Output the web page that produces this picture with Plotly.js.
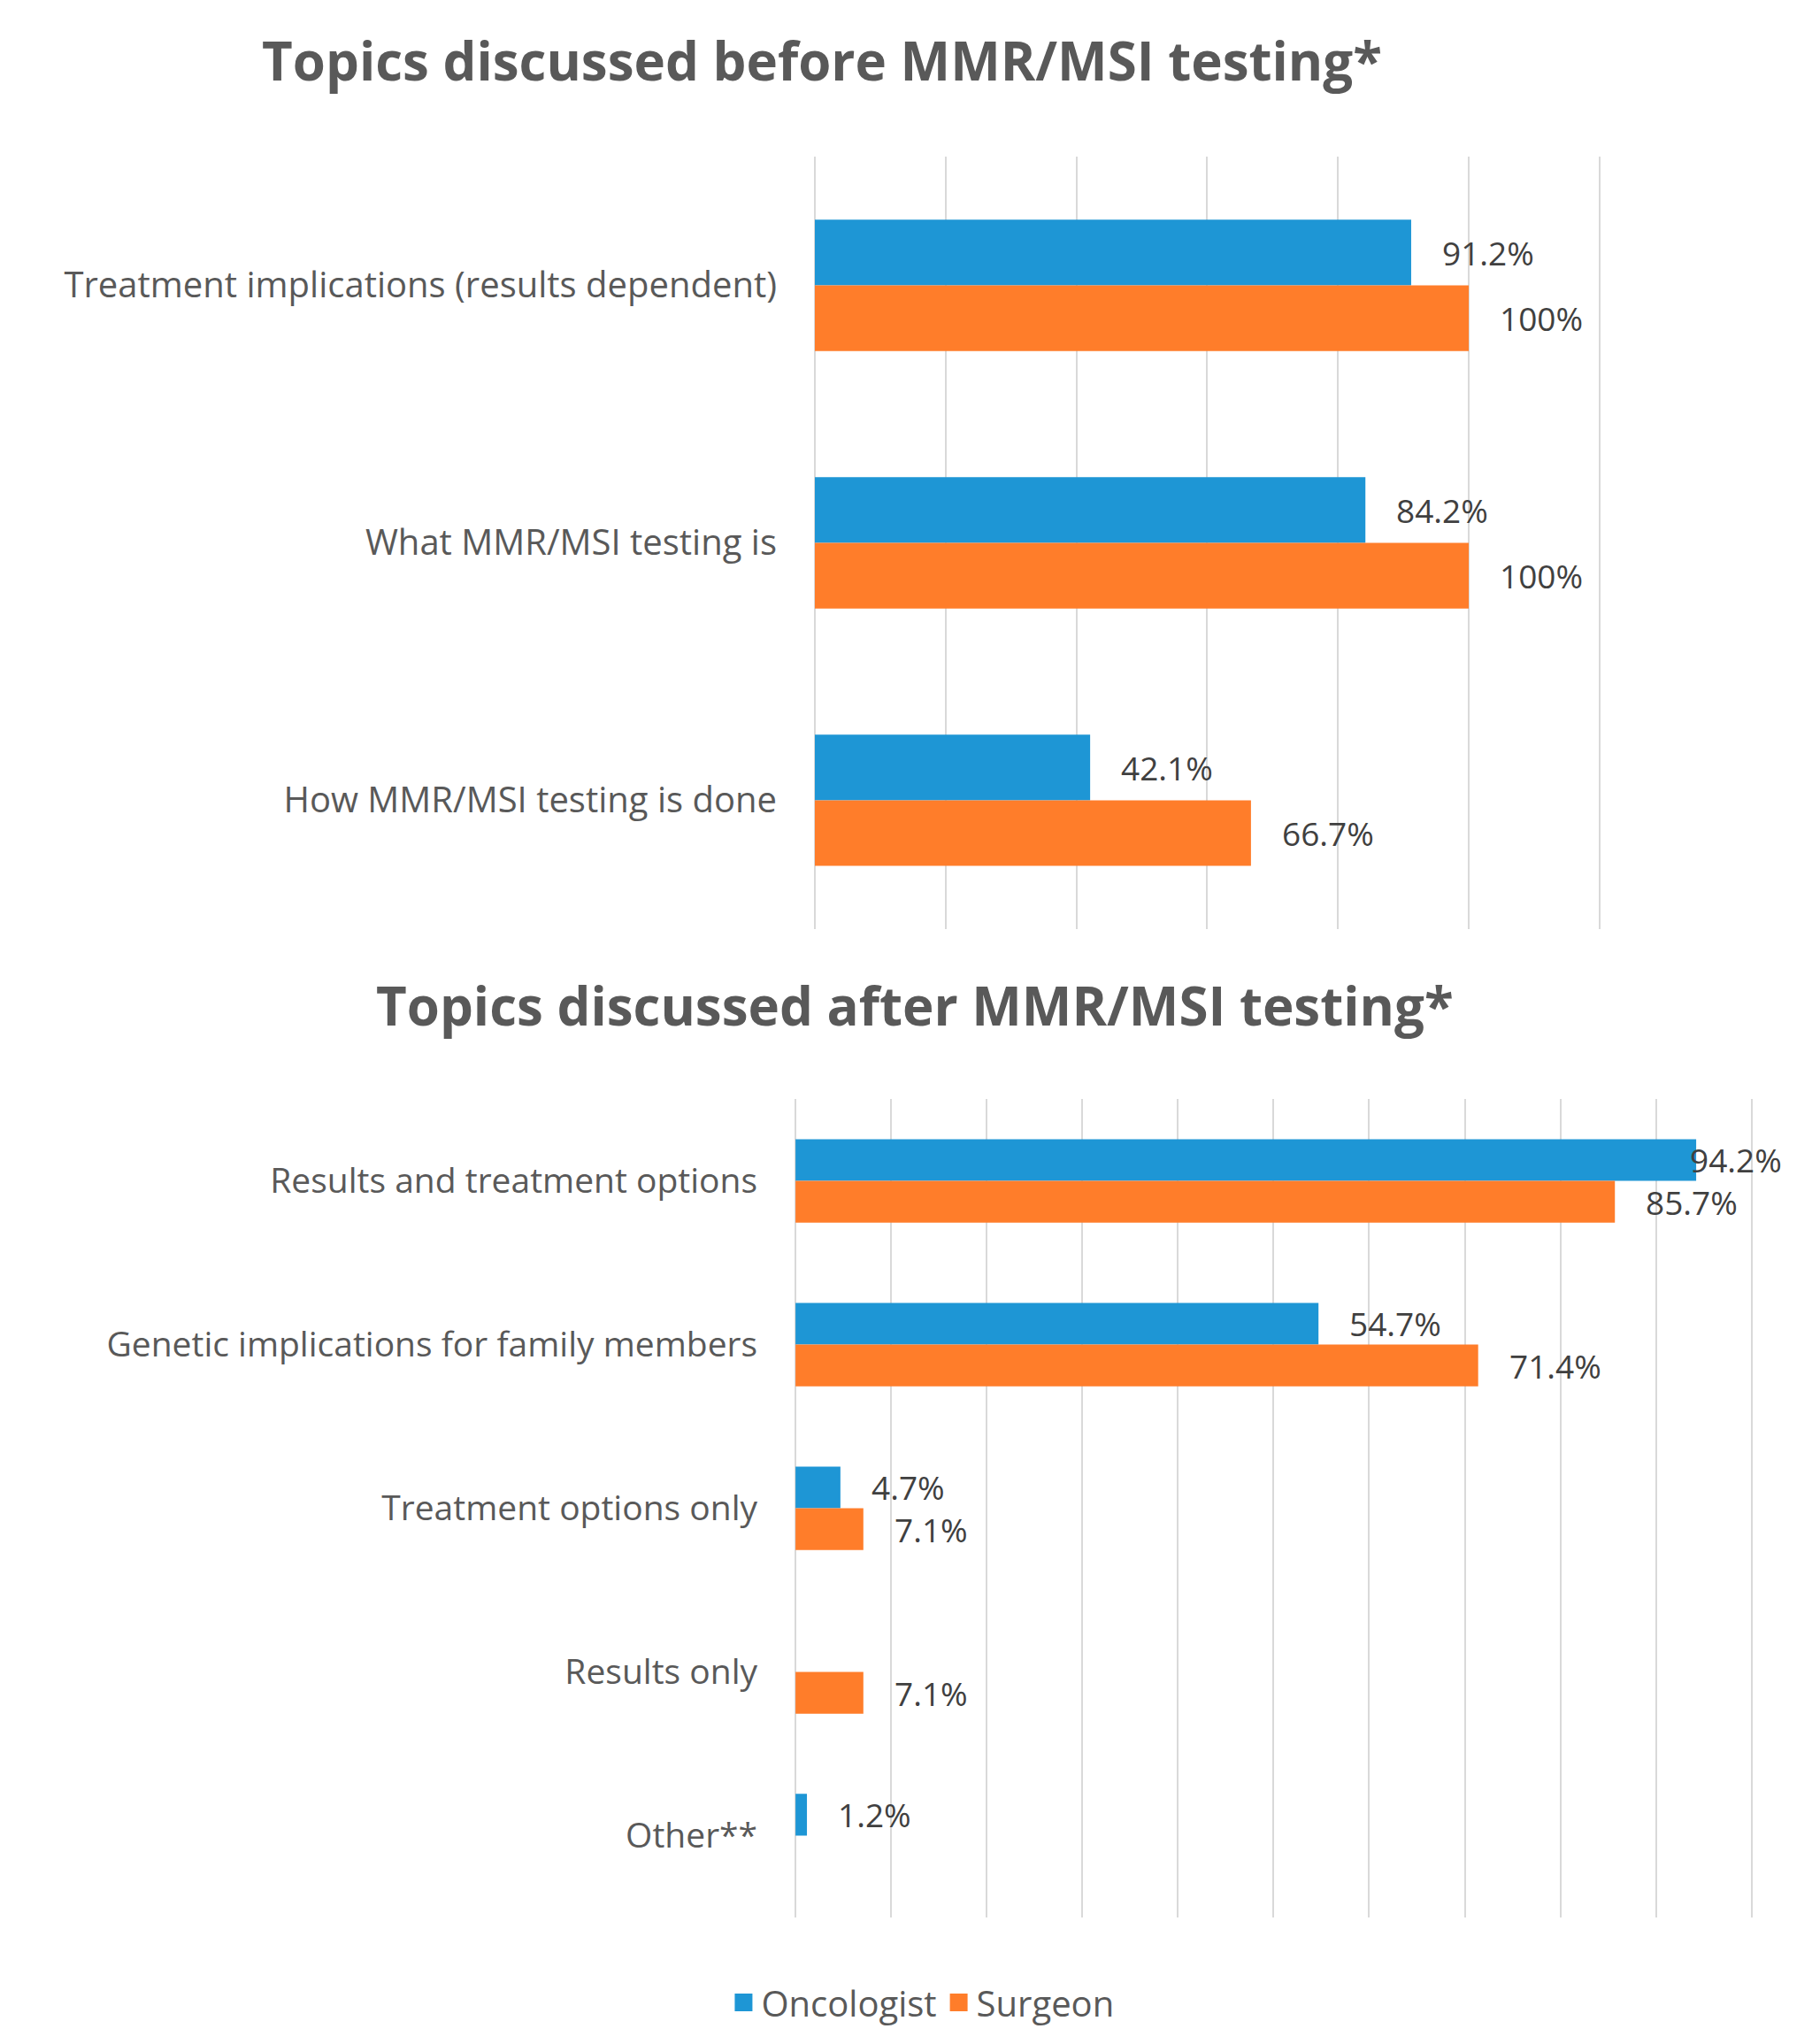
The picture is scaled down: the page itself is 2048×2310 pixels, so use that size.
<!DOCTYPE html>
<html>
<head>
<meta charset="utf-8">
<script src="https://cdn.plot.ly/plotly-3.0.1.min.js"></script>
<style>
	html, body { margin: 0; padding: 0; background: #fff; }
	#chart { width: 2048px; height: 2310px; }
</style>
</head>
<body>
<div id="chart"></div>
<script>
"use strict";
// topics before testing (top panel)
var beforeTopics=['Treatment implications (results dependent)', 'What MMR/MSI testing is', 'How MMR/MSI testing is done'];
var beforeOncologist=[91.2, 84.2, 42.1];
var beforeSurgeon=[100, 100, 66.7];

// topics after testing (bottom panel)
var afterTopics=['Results and treatment options', 'Genetic implications for family members', 'Treatment options only', 'Results only', 'Other**'];
var afterOncologist=[94.2, 54.7, 4.7, null, 1.2];
var afterSurgeon=[85.7, 71.4, 7.1, 7.1, null];

var seriesNames=['Oncologist', 'Surgeon'];
var seriesColors=['#1E96D5', '#FF7D2A'];

var labelFont='"Open Sans", Lato, sans-serif';
var barGap=0.49;

function pct(v){ //label text for a bar value
	return (v%1===0 ? v.toFixed(0) : v.toFixed(1))+'%';
}

function makeBar(i, cats, vals, xa, ya){
	return {
		type: 'bar',
		orientation: 'h',
		name: seriesNames[i],
		x: vals,
		y: cats,
		xaxis: xa,
		yaxis: ya,
		marker: {color: seriesColors[i]},
		showlegend: false,
		hoverinfo: 'skip'
	};
}

//value labels, placed next to the end of each bar.
//labelMax keeps a label from running past the right edge (like excel does)
function makeLabels(series, xa, ya, labelMax){
	var anns=[];
	series.forEach(function(vals, i){
		var off=(i===0 ? -1 : 1)*(1-barGap)/4;
		vals.forEach(function(v, idx){
			if (v===null) return;
			anns.push({
				xref: xa, yref: ya,
				x: Math.min(v, labelMax), y: idx+off,
				xanchor: 'left', yanchor: 'middle',
				xshift: 33,
				text: pct(v),
				showarrow: false,
				font: {family: labelFont, size: 37, color: '#404040'}
			});
		});
	});
	return anns;
}

var data=[
	makeBar(0, beforeTopics, beforeOncologist, 'x', 'y'),
	makeBar(1, beforeTopics, beforeSurgeon, 'x', 'y'),
	makeBar(0, afterTopics, afterOncologist, 'x2', 'y2'),
	makeBar(1, afterTopics, afterSurgeon, 'x2', 'y2')
];

//legend-only traces so the swatches can be bigger
seriesNames.forEach(function(name, i){
	data.push({
		type: 'scatter', mode: 'markers',
		name: name,
		x: [null], y: [null],
		xaxis: 'x', yaxis: 'y',
		marker: {symbol: 'square', size: 22, color: seriesColors[i], line: {color: seriesColors[i], width: 4}},
		hoverinfo: 'skip'
	});
});

var gridStyle={
	showgrid: true,
	gridcolor: '#D9D9D9',
	gridwidth: 2,
	zeroline: true,
	zerolinecolor: '#D9D9D9',
	zerolinewidth: 2,
	showticklabels: false,
	ticks: '',
	showline: false,
	tick0: 0,
	fixedrange: true
};

var catStyle={
	autorange: 'reversed',
	showgrid: false,
	zeroline: false,
	showline: false,
	ticks: '',
	ticklabelstandoff: 42,
	tickfont: {family: labelFont, size: 40, color: '#595959'},
	fixedrange: true
};

var titleFont={family: labelFont, size: 60, color: '#595959'};

var layout={
	width: 2048,
	height: 2310,
	margin: {l: 0, r: 0, t: 0, b: 0},
	paper_bgcolor: '#ffffff',
	plot_bgcolor: '#ffffff',
	barmode: 'group',
	bargap: barGap,
	bargroupgap: 0,
	title: {
		text: '<b>Topics discussed before MMR/MSI testing*</b>',
		x: 0.4536, xanchor: 'center',
		y: 1-70/2310, yanchor: 'middle',
		font: titleFont
	},
	xaxis: Object.assign({}, gridStyle, {domain: [0.4497, 0.8838], range: [0, 120.3], dtick: 20, anchor: 'y'}),
	yaxis: Object.assign({}, catStyle, {domain: [0.5455, 0.9234], anchor: 'x'}),
	xaxis2: Object.assign({}, gridStyle, {domain: [0.439, 0.968], range: [0, 100.25], dtick: 10, anchor: 'y2'}),
	yaxis2: Object.assign({}, catStyle, {domain: [0.0619, 0.4623], anchor: 'x2', tickfont: {family: labelFont, size: 39, color: '#595959'}}),
	annotations: [{
		text: '<b>Topics discussed after MMR/MSI testing*</b>',
		xref: 'paper', yref: 'paper',
		x: 0.505, xanchor: 'center',
		y: 1-1136/2310, yanchor: 'middle',
		showarrow: false,
		font: titleFont
	}].concat(
		makeLabels([beforeOncologist, beforeSurgeon], 'x', 'y', Infinity),
		makeLabels([afterOncologist, afterSurgeon], 'x2', 'y2', 90.3)
	),
	legend: {
		orientation: 'h',
		x: 0.509, xanchor: 'center',
		y: 1-2263/2310, yanchor: 'middle',
		font: {family: labelFont, size: 40, color: '#595959'},
		itemwidth: 30
	}
};

Plotly.newPlot('chart', data, layout, {staticPlot: true});
</script>
</body>
</html>
